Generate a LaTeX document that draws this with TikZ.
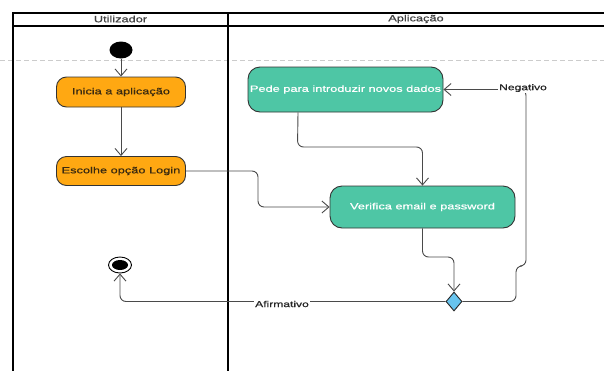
\documentclass[tikz,border=0pt]{standalone}
\usepackage{fontspec}
\setmainfont{Liberation Sans}[FakeStretch=1.42, FakeBold=0.7]
\usetikzlibrary{arrows.meta,shapes.geometric,calc}
\definecolor{actorange}{HTML}{FFA812}
\definecolor{actteal}{HTML}{4EC6A5}
\definecolor{decblue}{HTML}{68C4EE}
\definecolor{edgegray}{HTML}{4A4A4A}
\definecolor{txtdark}{HTML}{3A2A10}
\tikzset{
  lane/.style={line width=2pt, black},
  orangebox/.style={draw=black!80, line width=0.9pt, fill=actorange, rounded corners=10pt,
    text=txtdark, font=\fontsize{9}{10}\selectfont, inner sep=0pt},
  tealbox/.style={draw=black!80, line width=0.9pt, fill=actteal, rounded corners=12pt,
    text=white, font=\fontsize{9}{10}\selectfont, inner sep=0pt},
  flow/.style={draw=edgegray, line width=0.9pt, rounded corners=6pt,
    -{Straight Barb[length=7pt,width=12pt]}},
  edgelabel/.style={fill=white, inner sep=1pt, font=\fontsize{8.5}{10}\selectfont, text=black!85},
  headtext/.style={font=\fontsize{9}{10}\selectfont, text=black!75}
}
\begin{document}
\begin{tikzpicture}[x=1pt,y=-1pt]
\useasboundingbox (0,0) rectangle (604,370);
% dashed guide line
\draw[black!20, dash pattern=on 5pt off 3pt, line width=0.8pt] (0,60) -- (604,60);
% swimlanes
\draw[lane] (613,12.5) -- (13,12.5) -- (13,372);
\draw[lane] (13,25.5) -- (613,25.5);
\draw[lane] (228,12.5) -- (228,372);
\node[headtext] (hU) at (120.5,19) {Utilizador};
\node[headtext] (hA) at (416,19) {Aplicação};
% nodes
\node[ellipse, fill=black, minimum width=23pt, minimum height=17pt, inner sep=0pt] (start) at (121,50) {};
\node[orangebox, minimum width=129pt, minimum height=30pt] (inicia) at (121,92) {Inicia a aplicação};
\node[orangebox, minimum width=129pt, minimum height=29pt] (escolhe) at (121,171) {Escolhe opção Login};
\node[tealbox, minimum width=195pt, minimum height=45pt] (pede) at (345.5,89.5) {Pede para introduzir novos dados};
\node[tealbox, minimum width=185pt, minimum height=42pt] (verifica) at (422.5,207) {Verifica email e password};
\node[diamond, draw=black!85, line width=0.9pt, fill=decblue, minimum width=16pt, minimum height=19pt, inner sep=0pt] (dec) at (454,301.5) {};
\node[ellipse, draw=black, line width=0.9pt, fill=white, minimum width=23pt, minimum height=16pt, inner sep=0pt] (endo) at (120,265) {};
\node[ellipse, fill=black, minimum width=16pt, minimum height=10pt, inner sep=0pt] (endi) at (120,265) {};
% coordinates for connectors
\coordinate (c1) at (258,171);
\coordinate (c2) at (258,207);
\coordinate (p1) at ($(pede.south)+(-47.5,0)$);
\coordinate (p2) at (297.5,147);
\coordinate (p3) at (422.5,147);
\coordinate (v1) at (422.5,257);
\coordinate (v2) at (454,257);
\coordinate (n1) at (516,301.5);
\coordinate (n2) at (516,266);
\coordinate (n3) at (526,266);
\coordinate (n4) at (526,89.5);
\coordinate (a1) at (120,301.5);
% connectors
\draw[flow] (start) -- (inicia);
\draw[flow] (inicia) -- (escolhe);
\draw[flow] (escolhe.east) -- (c1) -- (c2) -- (verifica.west);
\draw[flow] (p1) -- (p2) -- (p3) -- (verifica.north);
\draw[flow] (verifica.south) -- (v1) -- (v2) -- (dec.north);
\draw[flow] (dec.east) -- (n1) -- (n2) -- (n3) -- (n4) -- (pede.east);
\draw[flow] (dec.west) -- (a1) -- (endo.south);
% labels
\node[edgelabel] (lneg) at (523,88) {Negativo};
\node[edgelabel] (laff) at (282,304) {Afirmativo};
\end{tikzpicture}
\end{document}
